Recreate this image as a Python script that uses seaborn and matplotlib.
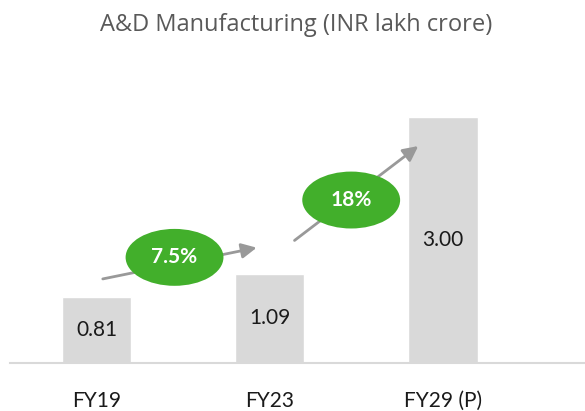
import pandas as pd
import seaborn as sns
import matplotlib.pyplot as plt
from matplotlib.patches import Ellipse

# data
years = ["FY19", "FY23", "FY29 (P)"]
values = [0.81, 1.09, 3.00]
cagr_labels = ["7.5%", "18%"]

df = pd.DataFrame({"year": years, "value": values})

sns.set_style("white")
plt.rcParams["font.family"] = ["Lato", "DejaVu Sans"]

fig = plt.figure(figsize=(5.85, 4.11), dpi=100)
ax = fig.add_axes([10 / 585, 1 - 363 / 411, 575 / 585, 303 / 411])

sns.barplot(data=df, x="year", y="value", color="#D9D9D9", width=0.4,
            saturation=1, ax=ax)

ax.set_xlim(-0.5, 2.82)
ax.set_ylim(0, 3.7)

# value labels in the middle of each bar
for i, v in enumerate(values):
    ax.text(i, v / 2, f"{v:.2f}", ha="center", va="center",
            fontsize=15, color="#1a1a1a")

# growth arrows between bars
green = "#42AF2B"
arrows = [((0.02, 1.02), (0.94, 1.415)), ((1.13, 1.476), (1.87, 2.67))]
bubbles = [(0.45, 1.29), (1.47, 1.99)]
for (start, end), centre, lab in zip(arrows, bubbles, cagr_labels):
    ax.annotate("", xy=end, xytext=start,
                arrowprops=dict(arrowstyle="-|>,head_length=0.9,head_width=0.45",
                                color="#999999", lw=2))
    ax.add_patch(Ellipse(centre, width=0.565, height=0.695,
                         facecolor=green, edgecolor="none", zorder=3))
    ax.text(centre[0], centre[1], lab, ha="center", va="center",
            fontsize=15, fontweight="bold", color="white", zorder=4)

# axes styling
sns.despine(ax=ax, left=True)
ax.spines["bottom"].set_color("#D9D9D9")
ax.spines["bottom"].set_linewidth(1.5)
ax.set_yticks([])
ax.set_xlabel("")
ax.set_ylabel("")
ax.tick_params(axis="x", length=0, pad=20, labelsize=15, labelcolor="#1a1a1a")

fig.text(296 / 585, 1 - 25 / 411, "A&D Manufacturing (INR lakh crore)",
         ha="center", va="center", fontsize=17, color="#595959",
         family=["Open Sans", "DejaVu Sans"])

fig.savefig("out.png", dpi=100)
